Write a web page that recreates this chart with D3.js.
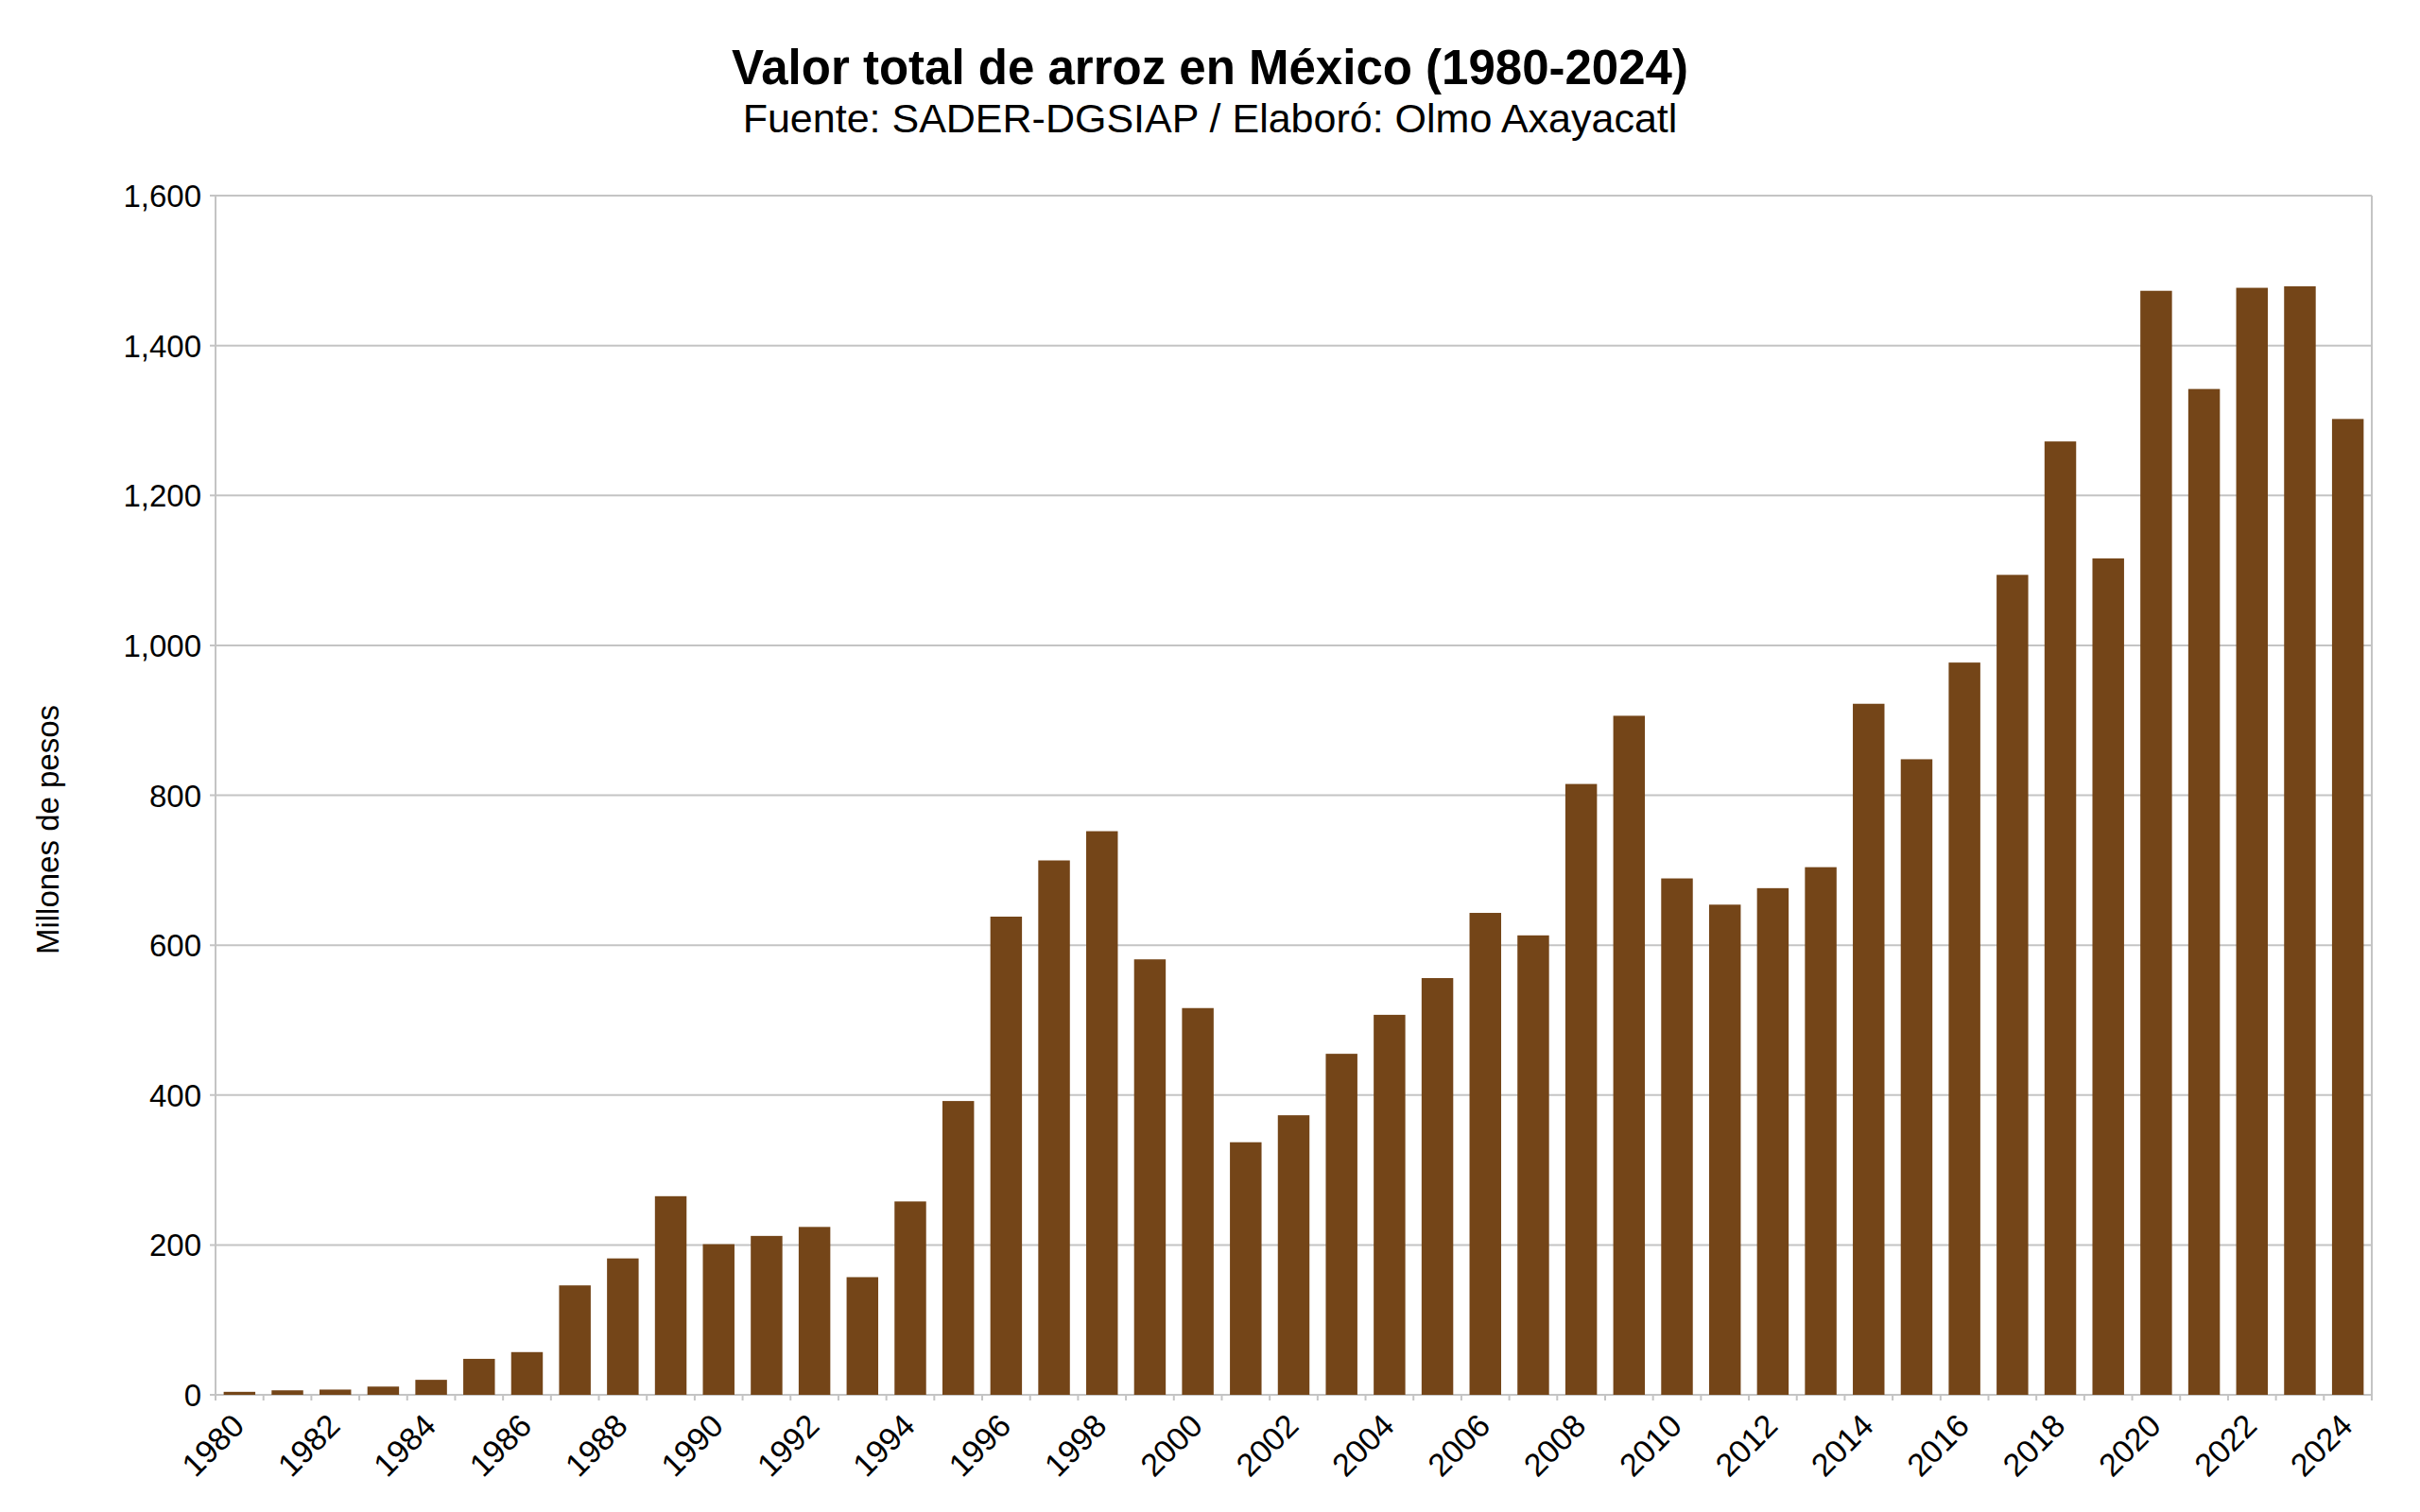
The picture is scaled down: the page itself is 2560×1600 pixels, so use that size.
<!DOCTYPE html>
<html>
<head>
<meta charset="utf-8">
<script src="https://cdn.jsdelivr.net/npm/d3@7"></script>
<style>
  body { margin: 0; background: #fff; }
  text { font-family: "Liberation Sans", Arial, sans-serif; fill: #000; }
</style>
</head>
<body>
<div id="chart"></div>
<script>
// años y valor total (millones de pesos)
var years = d3.range(1980, 2025);
var values = [
  4, 6, 7, 11, 20, 48, 57, 146, 182, 265,
  201, 212, 224, 157, 258, 392, 638, 713, 752, 581,
  516, 337, 373, 455, 507, 556, 643, 613, 815, 906,
  689, 654, 676, 704, 922, 848, 977, 1094, 1272, 1116,
  1473, 1342, 1477, 1479, 1302
];
var yTicks = [0, 200, 400, 600, 800, 1000, 1200, 1400, 1600];

var W = 2560, H = 1600;
var plotLeft = 228, plotRight = 2509, plotTop = 207, plotBottom = 1476;
var gridColor = "#c4c4c4";
var barColor = "#744518";

var svg = d3.select("#chart").append("svg")
  .attr("width", W).attr("height", H);

var x = d3.scaleBand()
  .domain(years)
  .range([plotLeft, plotRight])
  .paddingInner(0.34)
  .paddingOuter(0.17);

var y = d3.scaleLinear().domain([0, 1600]).range([plotBottom, plotTop]);

// titulos
svg.append("text")
  .attr("x", 1280).attr("y", 89)
  .attr("text-anchor", "middle")
  .style("font-size", "51px").style("font-weight", "bold")
  .text("Valor total de arroz en México (1980-2024)");
svg.append("text")
  .attr("x", 1280).attr("y", 140)
  .attr("text-anchor", "middle")
  .style("font-size", "43px")
  .text("Fuente: SADER-DGSIAP / Elaboró: Olmo Axayacatl");

// rejilla
svg.append("g").selectAll("line")
  .data(yTicks)
  .enter().append("line")
  .attr("x1", plotLeft - 6).attr("x2", plotRight)
  .attr("y1", d => y(d)).attr("y2", d => y(d))
  .style("stroke", gridColor).style("stroke-width", 2);

// marco lateral
svg.append("line")
  .attr("x1", plotLeft).attr("x2", plotLeft).attr("y1", plotTop).attr("y2", plotBottom)
  .style("stroke", gridColor).style("stroke-width", 2);
svg.append("line")
  .attr("x1", plotRight).attr("x2", plotRight).attr("y1", plotTop).attr("y2", plotBottom + 6)
  .style("stroke", gridColor).style("stroke-width", 2);

// barras
svg.append("g").selectAll("rect")
  .data(values)
  .enter().append("rect")
  .attr("x", (d, i) => x(years[i]))
  .attr("y", d => y(d))
  .attr("width", x.bandwidth())
  .attr("height", d => plotBottom - y(d))
  .style("fill", barColor);

// eje y
var yAxis = svg.append("g")
  .attr("transform", "translate(" + plotLeft + ",0)")
  .call(d3.axisLeft(y).tickValues(yTicks).tickSize(0).tickPadding(15)
    .tickFormat(d3.format(",")));
yAxis.select(".domain").remove();
yAxis.selectAll("text")
  .style("font-size", "33px")
  .attr("dy", "0.35em");

// eje x: marcas en los bordes de cada banda
var step = x.step();
svg.append("g").selectAll("line")
  .data(d3.range(years.length + 1))
  .enter().append("line")
  .attr("x1", i => plotLeft + i * step).attr("x2", i => plotLeft + i * step)
  .attr("y1", plotBottom).attr("y2", plotBottom + 6)
  .style("stroke", gridColor).style("stroke-width", 2);

svg.append("g").selectAll("text")
  .data(years.filter((d, i) => i % 2 == 0))
  .enter().append("text")
  .attr("text-anchor", "end")
  .attr("transform", d => "translate(" + (x(d) + x.bandwidth() / 2 + 7) + "," + (plotBottom + 35) + ") rotate(-45)")
  .style("font-size", "34px")
  .text(d => d);

// titulo eje y
svg.append("text")
  .attr("transform", "translate(62,878) rotate(-90)")
  .attr("text-anchor", "middle")
  .style("font-size", "33px")
  .text("Millones de pesos");
</script>
</body>
</html>
